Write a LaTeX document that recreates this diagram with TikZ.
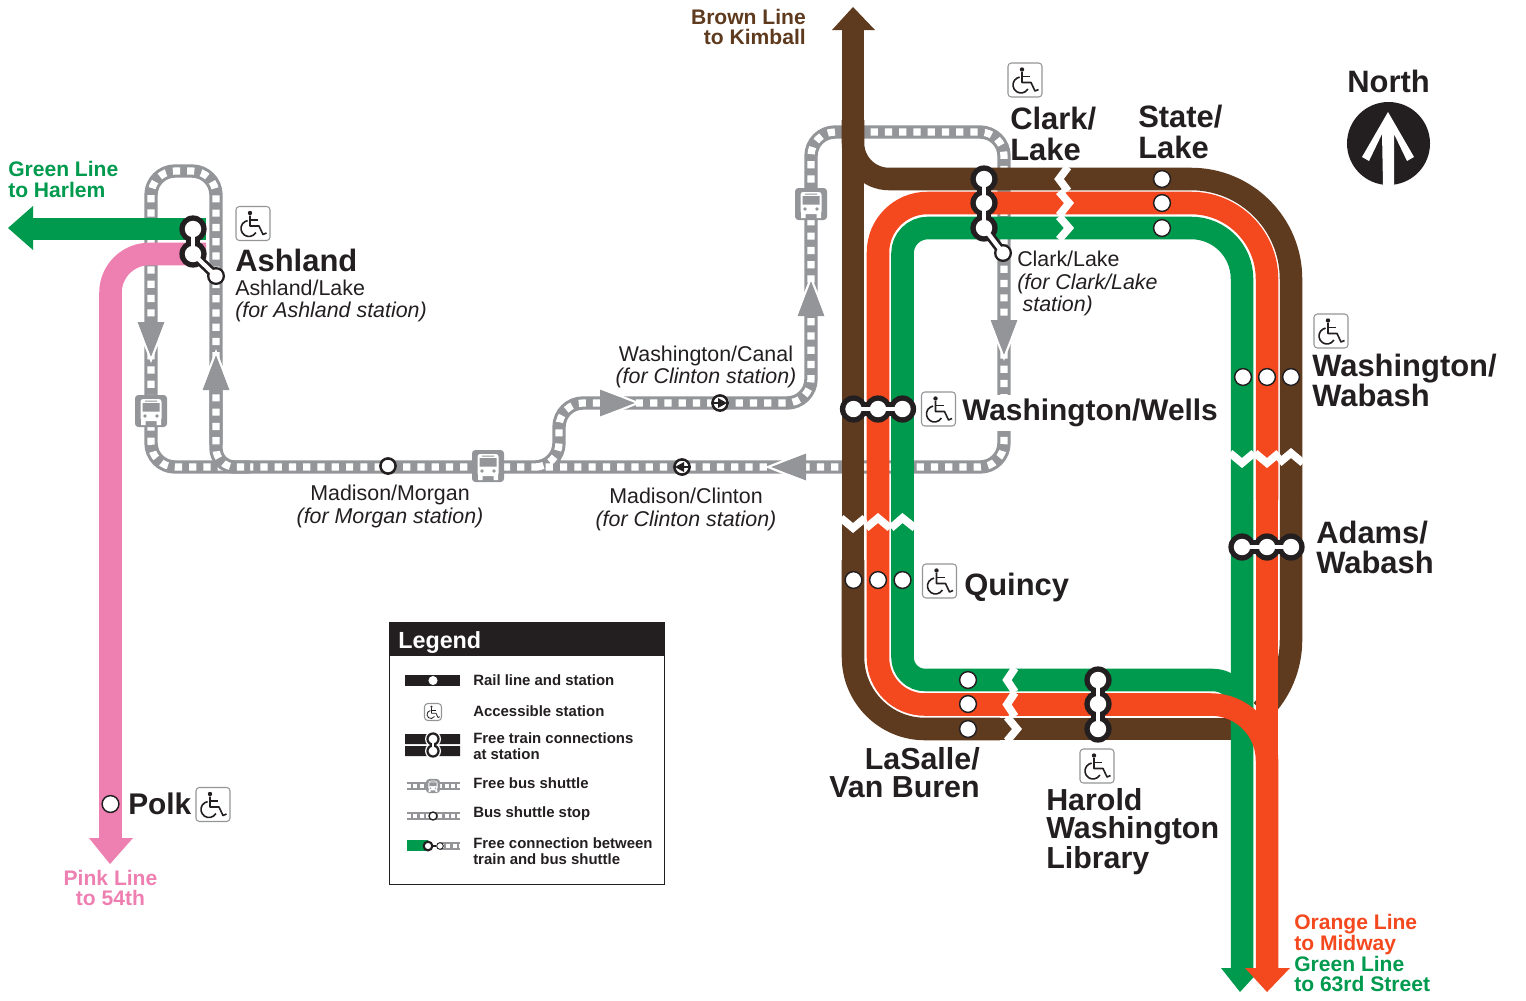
\documentclass[tikz,border=0pt]{standalone}
\usepackage{fontspec}
\setmainfont{Liberation Sans}
\usetikzlibrary{shapes,arrows}
\definecolor{brownl}{HTML}{5E3A1E}
\definecolor{orangel}{HTML}{F4481E}
\definecolor{greenl}{HTML}{009A4E}
\definecolor{pinkl}{HTML}{EE7FB1}
\definecolor{trackc}{HTML}{939598}
\definecolor{ink}{HTML}{231F20}
\tikzset{
  wheelchair/.pic={
    \draw[draw=trackc,fill=white,line width=.8pt,rounded corners=2.5pt] (-17,-17) rectangle (17,17);
    \fill[ink] (-3,-10.5) circle (2.2);
    \draw[ink,wcline,line join=round] (-3,-8) -- (-3,2.5) -- (6,2.5) -- (10,11) -- (13.5,9.5);
    \draw[ink,wcline] (-3,-3.5) -- (5,-3.5);
    \draw[ink,wcline] (-5.4,-2.9) arc (-100:-330:8);
  },
  wcline/.style={line width=1.2pt},
  busicon/.pic={
    \fill[trackc,rounded corners=2.5pt] (-16,-16) rectangle (16,16);
    \fill[white,rounded corners=2pt] (-10.5,-12) rectangle (10.5,10);
    \fill[white] (-10,8) rectangle (-5.5,14) (5.5,8) rectangle (10,14);
    \fill[trackc] (-8.5,-8) rectangle (8.5,0.5) (-6,-10.5) rectangle (6,-9.5);
    \fill[trackc] (-6,5) circle (1.8) (6,5) circle (1.8);
  },
  trackhead/.pic={
    \fill[trackc] (0,-13.5) -- (36,0) -- (0,13.5) -- cycle;
    \draw[white,line width=1.6pt] (0,-15) -- (38,0) -- (0,15);
  },
}
\newcommand\holes[2][8.2]{\foreach \n in {#2} \fill[white] (\n) circle (#1);}
\begin{document}
\begin{tikzpicture}[x=.75pt,y=-.75pt]
\tikzstyle{track}=[draw=trackc,line width=10pt,postaction={draw=white,line width=5.4pt,dash pattern=on 5.4pt off 5.3pt}];
\tikzstyle{minitrack}=[draw=trackc,line width=5.4pt,postaction={draw=white,line width=3pt,dash pattern=on 3pt off 1.7pt}];
\tikzstyle{rail}=[line width=16.9pt];
\tikzstyle{zig}=[draw=white,line width=5.8pt,miter limit=10];
\tikzstyle{dot}=[circle,draw=ink,fill=white,line width=1.1pt,minimum size=12.6pt,inner sep=0pt];
\tikzstyle{stopdot}=[dot,line width=1.9pt,minimum size=11.4pt];
\tikzstyle{xfer}=[circle,fill=ink,minimum size=20.4pt,inner sep=0pt];
\tikzstyle{xfersmall}=[circle,fill=ink,minimum size=13.5pt,inner sep=0pt];
\tikzstyle{neck}=[draw=white,line width=3.4pt,preaction={draw=ink,line width=10pt}];
\tikzstyle{txt}=[inner sep=0pt,align=left,anchor=west,text=ink];
\tikzstyle{stn}=[txt,font=\bfseries\fontsize{23.2}{23}\selectfont];
\tikzstyle{stnwide}=[stn,font=\bfseries\fontsize{22.8}{21}\selectfont];
\tikzstyle{stnnarrow}=[stn,font=\bfseries\fontsize{22.4}{21}\selectfont];
\tikzstyle{sub}=[txt,font=\fontsize{16.05}{16.8}\selectfont];
\tikzstyle{term}=[txt,font=\bfseries\fontsize{15.8}{15.6}\selectfont];
\tikzstyle{leg}=[txt,font=\bfseries\fontsize{11.2}{11.6}\selectfont];
\useasboundingbox (0,0) rectangle (1526,1000);

% shuttle loop
\draw[track,rounded corners=18pt] (216,445) -- (216,171) -- (151,171) -- (151,467) -- (1004,467) -- (1004,132) -- (811,132) -- (811,403) -- (559,403) -- (559,467) -- (530,467);
\draw[track,rounded corners=14pt] (216,380) -- (216,467) -- (250,467);
\pic at (151,411) {busicon};
\pic at (488,466) {busicon};
\pic at (811,204) {busicon};
\pic[rotate=0] at (600,403) {trackhead};
\pic[rotate=90] at (811,316) {trackhead};
\pic[rotate=-90] at (1004,320) {trackhead};
\pic[rotate=-90] at (151,322) {trackhead};
\pic[rotate=90] at (216,390) {trackhead};
\pic[rotate=180] at (806,467) {trackhead};

% brown
\draw[rail,brownl] (853,20) -- (853,600);
\draw[rail,brownl,rounded corners=54pt] (853,560) -- (853,729) -- (1000,729);
\draw[rail,brownl] (1000,729) -- (1240,729);
\draw[rail,brownl,rounded corners=27pt] (853,120) -- (853,179) -- (960,179);
\draw[rail,brownl,rounded corners=75pt] (960,179) -- (1291,179) -- (1291,500);
\draw[rail,brownl] (1291,500) -- (1291,640) arc (0:45:100);
\fill[brownl] (853,7) -- (875,30) -- (832,30) -- cycle;

% green
\draw[rail,greenl,rounded corners=38pt] (1242,970) -- (1242,228) -- (1000,228);
\draw[rail,greenl,rounded corners=19pt] (1000,228) -- (902.5,228) -- (902.5,500);
\draw[rail,greenl,rounded corners=17pt] (902.5,500) -- (902.5,680) -- (1100,680);
\draw[rail,greenl,rounded corners=22pt] (1100,680) -- (1242,680) -- (1242,730);
\fill[greenl] (1221,968) -- (1262,968) -- (1240,992) -- cycle;

% orange
\draw[rail,orangel,rounded corners=57pt] (1267,500) -- (1267,203) -- (1000,203);
\draw[rail,orangel,rounded corners=37pt] (1000,203) -- (878,203) -- (878,500);
\draw[rail,orangel,rounded corners=35pt] (878,500) -- (878,704.5) -- (1100,704.5);
\draw[rail,orangel,rounded corners=42pt] (1100,704.5) -- (1267,704.5) -- (1267,970);
\draw[rail,orangel] (1267,500) -- (1267,770);
\fill[orangel] (1245,968) -- (1290,968) -- (1267,992) -- cycle;

% west end
\draw[rail,greenl] (206,229) -- (30,229);
\fill[greenl] (8,228) -- (33,206) -- (33,250) -- cycle;
\draw[rail,pinkl,rounded corners=29pt] (206,254) -- (110.5,254) -- (110.5,840);
\fill[pinkl] (110,864) -- (89,838) -- (133,838) -- cycle;

% breaks
\draw[zig] (841,518) -- (853,528) -- (865,518);
\draw[zig] (866,528) -- (878,518) -- (890,528);
\draw[zig] (891,528) -- (902.5,518) -- (915,528);
\draw[zig] (1230,453) -- (1242,463) -- (1254,453);
\draw[zig] (1255,453) -- (1267,463) -- (1279,453);
\draw[zig] (1279,463) -- (1291,453) -- (1303,463);
\draw[zig] (1068,167) -- (1059,179) -- (1068,191);
\draw[zig] (1059,191.500) -- (1069,203) -- (1059,215.500);
\draw[zig] (1059,216.500) -- (1069,228) -- (1059,239.500);
\draw[zig] (1015,668) -- (1007,680) -- (1015,692);
\draw[zig] (1015,692.500) -- (1007,704.500) -- (1015,716.500);
\draw[zig] (1007,717) -- (1017,729) -- (1007,741);

% stations
\node[dot] (quincyb) at (853.5,580) {};
\node[dot] (quincyo) at (878,580) {};
\node[dot] (quincyg) at (902.5,580) {};
\node[dot] (stateb) at (1162,179) {};
\node[dot] (stateo) at (1162,203) {};
\node[dot] (stateg) at (1162,228) {};
\node[dot] (wabashg) at (1243,377) {};
\node[dot] (wabasho) at (1267,377) {};
\node[dot] (wabashb) at (1291,377) {};
\node[dot] (lasalleg) at (968,680) {};
\node[dot] (lasalleo) at (968,704) {};
\node[dot] (lasalleb) at (968,729) {};
\node[dot] (polk) at (110.5,804) {};

% transfers
\node[xfer] (ash1) at (193,229) {};
\node[xfer] (ash2) at (193,254) {};
\node[xfersmall] (ash3) at (216,276) {};
\draw[neck] (ash1.center) -- (ash2.center);
\draw[draw=white,line width=3.2pt,preaction={draw=ink,line width=7.2pt}] (ash2.center) -- (ash3.center);
\holes{ash1,ash2}
\holes[6.6]{ash3}
\node[xfer] (clark1) at (984,179) {};
\node[xfer] (clark2) at (984,203) {};
\node[xfer] (clark3) at (984,228) {};
\node[xfersmall] (clark4) at (1003,253) {};
\draw[neck] (clark1.center) -- (clark2.center) -- (clark3.center);
\draw[draw=white,line width=3.2pt,preaction={draw=ink,line width=7.2pt}] (clark3.center) -- (clark4.center);
\holes{clark1,clark2,clark3}
\holes[6.6]{clark4}
\node[xfer] (wells1) at (853.5,409) {};
\node[xfer] (wells2) at (878,409) {};
\node[xfer] (wells3) at (902.5,409) {};
\draw[neck] (wells1.center) -- (wells3.center);
\holes{wells1,wells2,wells3}
\node[xfer] (adams1) at (1242,547) {};
\node[xfer] (adams2) at (1267,547) {};
\node[xfer] (adams3) at (1291,547) {};
\draw[neck] (adams1.center) -- (adams3.center);
\holes{adams1,adams2,adams3}
\node[xfer] (harold1) at (1098,680) {};
\node[xfer] (harold2) at (1098,704) {};
\node[xfer] (harold3) at (1098,729) {};
\draw[neck] (harold1.center) -- (harold3.center);
\holes{harold1,harold2,harold3}

% shuttle stops
\node[stopdot] (morgan) at (388,466) {};
\node[stopdot] (canal) at (720,403) {};
\node[stopdot] (clinton) at (682,467) {};
\draw[ink,line width=1pt] (713,403) -- (720,403);
\fill[ink] (727,403) -- (718,398) -- (718,408) -- cycle;
\draw[ink,line width=1pt] (689,467) -- (682,467);
\fill[ink] (675,467) -- (684,462) -- (684,472) -- cycle;

% accessible
\pic at (253,223.500) {wheelchair};
\pic at (1025,80) {wheelchair};
\pic at (1331,331) {wheelchair};
\pic at (938.500,409) {wheelchair};
\pic at (939.500,581) {wheelchair};
\pic at (1097,766) {wheelchair};
\pic at (213,804.500) {wheelchair};

% north
\fill[ink] (1388.5,143.5) circle (41.5);
\fill[white] (1388,112) -- (1414,157) -- (1407,161) -- (1394,134) -- (1394,185) -- (1383,185) -- (1382,134) -- (1369,161) -- (1362,157) -- cycle;
\node[stn,anchor=center] (north) at (1388.5,81) {North};

% labels
\node[stn] (ashland) at (235,260) {Ashland};
\node[sub] (ashlandsub) at (235,301) {Ashland/Lake\\\textit{(for Ashland station)}};
\node[stnnarrow] (polktext) at (128,804) {Polk};
\node[stn] (clarktext) at (1010,134) {Clark/\\Lake};
\node[stn] (statetext) at (1138,132) {State/\\Lake};
\node[sub] (clarksub) at (1017,283.500) {Clark/Lake\\\textit{(for Clark/Lake}\\\hspace{4pt}\textit{station)}};
\node[stn] (washwab) at (1312,380.500) {Washington/\\Wabash};
\node[stnnarrow,fill=white,minimum height=27pt] (wellstext) at (962,413) {Washington/Wells};
\node[stn] (quincytext) at (964,587) {Quincy};
\node[stn] (adamstext) at (1316,547.500) {Adams/\\Wabash};
\node[stnwide,align=right,anchor=east] (lasalletext) at (980,773) {LaSalle/\\Van Buren};
\node[stnwide] (haroldtext) at (1046,831.500) {Harold\\Washington\\Library};
\node[sub,align=center,anchor=center] (canaltext) at (706,367) {Washington/Canal\\\textit{(for Clinton station)}};
\node[sub,align=center,anchor=center] (morgantext) at (390,506.500) {Madison/Morgan\\\textit{(for Morgan station)}};
\node[sub,align=center,anchor=center] (clintontext) at (686,509.500) {Madison/Clinton\\\textit{(for Clinton station)}};
\node[term,text=brownl,align=right,anchor=east] (brownterm) at (806,27) {Brown Line\\to Kimball};
\node[term,text=greenl] (harlemterm) at (8,179.500) {Green Line\\to Harlem};
\node[term,text=pinkl,align=center,anchor=center] (pinkterm) at (110.5,888) {Pink Line\\to 54th};
\node[term,text=orangel] (orangeterm) at (1294,934.500) {Orange Line\\to Midway};
\node[term,text=greenl] (greenterm) at (1294,974) {Green Line\\to 63rd Street};

% legend
\draw[ink,line width=.7pt] (389,622) rectangle (664,884);
\fill[ink] (389,622) rectangle (664,656);
\node[txt,text=white,font=\bfseries\fontsize{17.5}{18}\selectfont] (legendtitle) at (398,642.500) {Legend};
\fill[ink] (405,675) rectangle (460,686);
\node[circle,fill=white,minimum size=6.8pt,inner sep=0pt] (legrail) at (433,680.500) {};
\pic[scale=.5,wcline/.style={line width=.6pt}] at (433,712) {wheelchair};
\fill[ink] (405,734) rectangle (460,744) (405,746) rectangle (460,756);
\fill[white] (433,739) circle (8) (433,751) circle (8);
\node[circle,fill=ink,minimum size=10pt,inner sep=0pt] (legxfera) at (433,739) {};
\node[circle,fill=ink,minimum size=10pt,inner sep=0pt] (legxferb) at (433,751) {};
\holes[4.4]{legxfera,legxferb}
\draw[white,line width=2pt] (legxfera.center) -- (legxferb.center);
\draw[minitrack] (407,786) -- (460,786);
\pic[scale=.44] at (433,786) {busicon};
\draw[minitrack] (407,816) -- (460,816);
\node[circle,draw=ink,fill=white,line width=1pt,minimum size=6pt,inner sep=0pt] (legstop) at (433,816) {};
\draw[minitrack] (440,846) -- (460,846);
\fill[greenl] (407,840) rectangle (428,851);
\node[circle,draw=ink,fill=white,line width=1.6pt,minimum size=6.5pt,inner sep=0pt] (legtrain) at (428,846) {};
\node[circle,draw=ink,fill=white,line width=.7pt,minimum size=5pt,inner sep=0pt] (legbus) at (440,846) {};
\draw[ink,line width=1.2pt] (legtrain) -- (legbus);
\node[leg] (legtexta) at (473,680.500) {Rail line and station};
\node[leg] (legtextb) at (473,711.500) {Accessible station};
\node[leg] (legtextc) at (473,746) {Free train connections\\at station};
\node[leg] (legtextd) at (473,783.500) {Free bus shuttle};
\node[leg] (legtexte) at (473,814) {Bus shuttle stop};
\node[leg] (legtextf) at (473,851) {Free connection between\\train and bus shuttle};
\end{tikzpicture}
\end{document}
